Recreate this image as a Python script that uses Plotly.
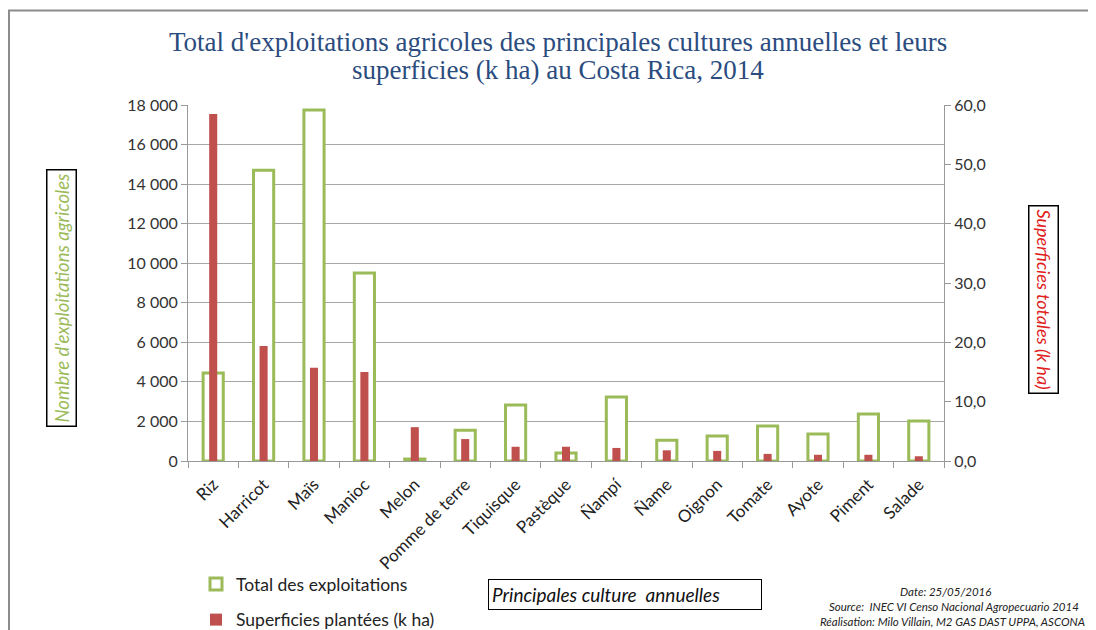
import plotly.graph_objects as go

categories = ["Riz", "Harricot", "Maïs", "Manioc", "Melon", "Pomme de terre", "Tiquisque",
              "Pastèque", "Ñampí", "Ñame", "Oignon", "Tomate", "Ayote", "Piment", "Salade"]
exploitations = [4450, 14700, 17750, 9500, 100, 1550, 2830, 400, 3240, 1050, 1260, 1770, 1370, 2380, 2020]
superficies = [58.5, 19.4, 15.7, 15.0, 5.7, 3.7, 2.4, 2.4, 2.2, 1.8, 1.7, 1.2, 1.05, 1.05, 0.8]
left_ticks = [0, 2000, 4000, 6000, 8000, 10000, 12000, 14000, 16000, 18000]
right_ticks = [0, 10, 20, 30, 40, 50, 60]
title_lines = ["Total d'exploitations agricoles des principales cultures annuelles et leurs",
               "superficies (k ha) au Costa Rica, 2014"]

GREEN = "#9BBB59"
RED = "#C0504D"
FONT = "Lato"

fig = go.Figure()
fig.add_trace(go.Bar(
    x=categories, y=exploitations, name="Total des exploitations",
    marker=dict(color="white", line=dict(color=GREEN, width=3)),
    width=0.4, yaxis="y", legendgroup="a",
))
fig.add_trace(go.Bar(
    x=categories, y=superficies, name="Superficies plantées (k ha)",
    marker=dict(color=RED, line=dict(width=0)),
    width=0.16, yaxis="y2", legendgroup="b",
))

# page body has an 8px default margin: figure is offset by (8, 8) on screen
OFF = 8
W, H = 1096 - OFF, 630 - OFF
L, T = 188 - OFF, 105 - OFF
R = W - (944 - OFF)
B = H - (461 - OFF)
pw, ph = W - L - R, H - T - B

def px(x):
    return (x - OFF - L) / pw

def py(y):
    return (H - B - (y - OFF)) / ph

fig.update_layout(
    width=W, height=H,
    margin=dict(l=L, r=R, t=T, b=B, autoexpand=False),
    paper_bgcolor="white", plot_bgcolor="white",
    separators=", ",
    barmode="overlay",
    showlegend=True,
    xaxis=dict(
        type="category", tickangle=-45, tickson="boundaries",
        ticks="outside", ticklen=6, tickcolor="#999999",
        showline=True, linecolor="#999999", linewidth=1,
        tickfont=dict(family=FONT, size=17, color="#222222"),
        ticklabelstandoff=6,
        showgrid=False, automargin=False,
    ),
    yaxis=dict(
        range=[0, 18000], tickvals=left_ticks, tickformat=",d",
        ticks="outside", ticklen=6, tickcolor="#999999",
        showline=True, linecolor="#999999", linewidth=1,
        showgrid=True, gridcolor="#A6A6A6", gridwidth=1,
        tickfont=dict(family=FONT, size=16, color="#333333"),
        zeroline=False, automargin=False,
    ),
    yaxis2=dict(
        range=[0, 60], tickvals=right_ticks, tickformat=".1f",
        overlaying="y", side="right",
        ticks="outside", ticklen=6, tickcolor="#999999",
        showline=True, linecolor="#999999", linewidth=1,
        showgrid=False, zeroline=False, automargin=False,
        tickfont=dict(family=FONT, size=16, color="#333333"),
    ),
    legend=dict(
        x=px(196), y=py(566), xanchor="left", yanchor="top",
        orientation="v", traceorder="grouped", tracegroupgap=10,
        font=dict(family=FONT, size=17.5, color="#222222"),
        bgcolor="rgba(0,0,0,0)", itemclick=False,
    ),
)

annotations = [
    dict(text=title_lines[0], x=px(558), y=py(42),
         font=dict(family="Liberation Serif", size=27, color="#2B4C7E")),
    dict(text=title_lines[1], x=px(558), y=py(70),
         font=dict(family="Liberation Serif", size=27, color="#2B4C7E")),
    dict(text="<i>Nombre d'exploitations agricoles</i>", x=px(61), y=py(298),
         textangle=-90, font=dict(family=FONT, size=18.5, color=GREEN),
         bordercolor="black", borderwidth=1.5, borderpad=3),
    dict(text="<i>Superficies totales (k ha)</i>", x=px(1044), y=py(299),
         textangle=90, font=dict(family=FONT, size=18, color="#E02020"),
         bordercolor="black", borderwidth=1.5, borderpad=3),
    dict(text="<i>Principales culture  annuelles</i>", x=px(625), y=py(594),
         font=dict(family=FONT, size=19, color="#111111"),
         bordercolor="black", borderwidth=1, borderpad=3, width=266, align="left"),
    dict(text="<i>Date: 25/05/2016</i>", x=px(945), y=py(591),
         font=dict(family=FONT, size=11.5, color="#222222")),
    dict(text="<i>Source:  INEC VI Censo Nacional Agropecuario 2014</i>", x=px(954), y=py(606),
         font=dict(family=FONT, size=11.5, color="#222222")),
    dict(text="<i>Réalisation: Milo Villain, M2 GAS DAST UPPA, ASCONA</i>", x=px(952), y=py(621),
         font=dict(family=FONT, size=11.5, color="#222222")),
]
for a in annotations:
    a.update(xref="paper", yref="paper", showarrow=False, xanchor="center", yanchor="middle")
fig.update_layout(annotations=annotations)

fig.add_shape(type="rect", xref="paper", yref="paper",
              x0=px(9), x1=px(1110), y0=py(650), y1=py(10.5),
              line=dict(color="#8C8C8C", width=2), fillcolor="rgba(0,0,0,0)", layer="below")

fig.write_html("out.html")
